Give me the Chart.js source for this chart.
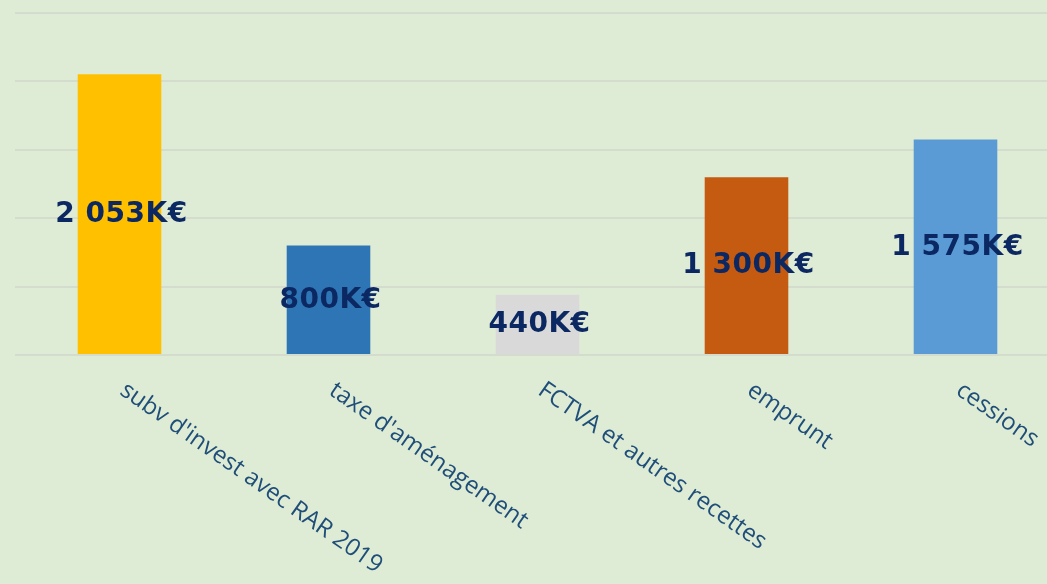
<!DOCTYPE html>
<html><head><meta charset="utf-8">
<script src="https://cdn.jsdelivr.net/npm/chart.js@4"></script>
<style>
html,body{margin:0;padding:0;overflow:hidden;background:#dfecd5;width:1047px;height:584px;}
#wrap{position:absolute;left:0;top:0;width:1062px;height:584px;}
</style></head><body>
<div id="wrap"><canvas id="c" width="1062" height="584"></canvas></div>
<script>
const categories = ["subv d'invest avec RAR 2019", "taxe d'aménagement", "FCTVA et autres recettes", "emprunt", "cessions"];
const values = [2053, 800, 440, 1300, 1575];
const valueLabels = ["2 053K€", "800K€", "440K€", "1 300K€", "1 575K€"];
const barColors = ["#ffc000", "#2e75b6", "#d9d9d9", "#c55a11", "#5b9bd5"];
const yTicks = [0, 500, 1000, 1500, 2000, 2500];

const labelPlugin = {
  id: 'labels',
  afterDatasetsDraw(chart) {
    const ctx = chart.ctx;
    const meta = chart.getDatasetMeta(0);
    const xs = chart.scales.x, ys = chart.scales.y;
    ctx.save();
    ctx.font = 'bold 28px "DejaVu Sans"';
    ctx.letterSpacing = '0.5px';
    ctx.fillStyle = '#0c2862';
    ctx.textAlign = 'center';
    ctx.textBaseline = 'middle';
    meta.data.forEach((bar, i) => {
      const yMid = (ys.getPixelForValue(values[i]) + ys.getPixelForValue(0)) / 2;
      ctx.fillText(valueLabels[i], bar.x + 2, yMid);
    });
    ctx.restore();
    ctx.save();
    ctx.font = '24px "Open Sans"';
    ctx.fillStyle = '#1f4e79';
    ctx.textAlign = 'left';
    ctx.textBaseline = 'top';
    categories.forEach((c, i) => {
      const x = xs.getPixelForValue(i) + 10;
      const y = ys.getPixelForValue(0) + 23;
      ctx.save();
      ctx.translate(x, y);
      ctx.rotate(35 * Math.PI / 180);
      ctx.fillText(c, 0, 0);
      ctx.restore();
    });
    ctx.restore();
  }
};

new Chart(document.getElementById('c'), {
  type: 'bar',
  data: {
    labels: categories,
    datasets: [{ data: values, backgroundColor: barColors, borderWidth: 0,
      barPercentage: 0.4, categoryPercentage: 1.0 }]
  },
  options: {
    responsive: false,
    animation: false,
    layout: { padding: { left: 15, right: 2, top: 13, bottom: 221 } },
    plugins: { legend: { display: false }, tooltip: { enabled: false } },
    scales: {
      x: { grid: { display: false }, border: { display: false }, ticks: { display: false } },
      y: { min: 0, max: 2500,
        afterBuildTicks: (s) => { s.ticks = yTicks.map(v => ({ value: v })); },
        grid: { color: '#d3dccd', lineWidth: 2, drawTicks: false },
        border: { display: false }, ticks: { display: false } }
    }
  },
  plugins: [labelPlugin]
});
</script>
</body></html>
